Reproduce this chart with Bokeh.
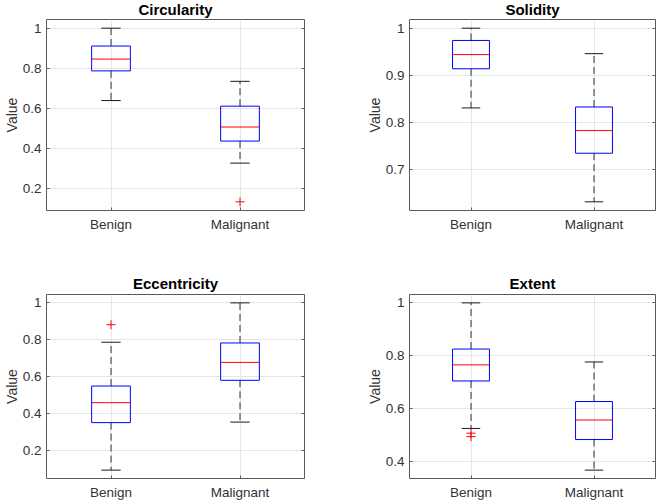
from bokeh.plotting import figure
from bokeh.layouts import gridplot
from bokeh.models import Range1d, FixedTicker, CustomJSTickFormatter, LinearAxis
from bokeh.embed import file_html
from bokeh.resources import INLINE

groups = ["Benign", "Malignant"]

# five-number summaries: lower whisker, Q1, median, Q3, upper whisker
circularity_benign = [0.639, 0.787, 0.846, 0.911, 1.000]
circularity_malignant = [0.327, 0.437, 0.507, 0.611, 0.735]
circularity_outliers = [[], [0.134]]
circularity_ticks = [0.2, 0.4, 0.6, 0.8, 1.0]

solidity_benign = [0.831, 0.914, 0.944, 0.974, 1.000]
solidity_malignant = [0.632, 0.735, 0.783, 0.833, 0.946]
solidity_outliers = [[], []]
solidity_ticks = [0.7, 0.8, 0.9, 1.0]

eccentricity_benign = [0.095, 0.352, 0.460, 0.550, 0.787]
eccentricity_malignant = [0.355, 0.581, 0.678, 0.783, 1.000]
eccentricity_outliers = [[0.882], []]
eccentricity_ticks = [0.2, 0.4, 0.6, 0.8, 1.0]

extent_benign = [0.524, 0.704, 0.765, 0.825, 1.000]
extent_malignant = [0.366, 0.482, 0.556, 0.626, 0.776]
extent_outliers = [[0.506, 0.493], []]
extent_ticks = [0.4, 0.6, 0.8, 1.0]

FONT = "Liberation Sans"
AXIS_GRAY = "#5a5a5a"
TEXT_GRAY = "#333333"
BOX_W = 0.3
CAP_W = 0.15


def boxplot_panel(title, stats, outliers, ticks, left, right, top, bottom,
                  title_valign, title_standoff):
    xs = [i + 1 for i in range(len(groups))]
    values = [v for s in stats for v in s] + [v for o in outliers for v in o]
    lo, hi = min(values), max(values)
    pad = 0.05 * (hi - lo)

    p = figure(width=329, height=251, title=title,
               x_range=Range1d(0.5, len(groups) + 0.5),
               y_range=Range1d(lo - pad, hi + pad),
               output_backend="svg", toolbar_location=None,
               min_border_left=left, min_border_right=right,
               min_border_top=top, min_border_bottom=bottom)

    low = [s[0] for s in stats]
    q1 = [s[1] for s in stats]
    med = [s[2] for s in stats]
    q3 = [s[3] for s in stats]
    high = [s[4] for s in stats]

    # whiskers
    p.segment(x0=xs, x1=xs, y0=q3, y1=high, line_color="#1a1a1a",
              line_width=0.9, line_dash="7 4")
    p.segment(x0=xs, x1=xs, y0=q1, y1=low, line_color="#1a1a1a",
              line_width=0.9, line_dash="7 4")
    # whisker caps
    for ys in (low, high):
        p.segment(x0=[x - CAP_W / 2 for x in xs], x1=[x + CAP_W / 2 for x in xs],
                  y0=ys, y1=ys, line_color="#1a1a1a", line_width=1)
    # boxes
    p.vbar(x=xs, width=BOX_W, bottom=q1, top=q3, fill_color=None,
           line_color="#0000ff", line_width=1)
    # medians
    p.segment(x0=[x - BOX_W / 2 for x in xs], x1=[x + BOX_W / 2 for x in xs],
              y0=med, y1=med, line_color="#ff0000", line_width=1)
    # outliers
    ox = [xs[i] for i, o in enumerate(outliers) for _ in o]
    oy = [v for o in outliers for v in o]
    if oy:
        p.scatter(x=ox, y=oy, marker="cross", size=9, line_color="#ff0000",
                  line_width=1)

    p.title.text_font = FONT
    p.title.text_font_size = "15px"
    p.title.text_font_style = "bold"
    p.title.text_color = "black"
    p.title.align = "center"
    p.title.vertical_align = title_valign
    p.title.standoff = title_standoff

    p.outline_line_color = AXIS_GRAY
    p.outline_line_width = 1
    p.outline_line_alpha = 1
    p.grid.grid_line_color = "#e6e6e6"
    p.grid.grid_line_width = 1

    p.xaxis.ticker = FixedTicker(ticks=xs)
    p.xaxis.formatter = CustomJSTickFormatter(
        args=dict(names=groups), code="return names[Math.round(tick) - 1];")
    p.yaxis.ticker = FixedTicker(ticks=ticks)
    p.yaxis.formatter = CustomJSTickFormatter(
        code="return String(Math.round(tick * 10) / 10);")
    p.yaxis.axis_label = "Value"

    for ax in p.axis:
        ax.axis_line_color = None
        ax.major_tick_in = 3
        ax.major_tick_out = 0
        ax.major_tick_line_color = AXIS_GRAY
        ax.minor_tick_line_color = None
        ax.major_label_text_font = FONT
        ax.major_label_text_font_size = "13.5px"
        ax.major_label_text_color = TEXT_GRAY
        ax.axis_label_text_font = FONT
        ax.axis_label_text_font_size = "14px"
        ax.axis_label_text_font_style = "normal"
        ax.axis_label_text_color = TEXT_GRAY
    p.xaxis.major_label_standoff = 6
    p.yaxis.major_label_standoff = 5
    p.yaxis.axis_label_standoff = 0

    # inner tick marks along the right edge of the frame
    right_ax = LinearAxis(ticker=FixedTicker(ticks=ticks),
                          formatter=CustomJSTickFormatter(code="return '';"),
                          axis_line_color=None, major_tick_in=3,
                          major_tick_out=0, major_tick_line_color=AXIS_GRAY,
                          minor_tick_line_color=None,
                          major_label_standoff=0)
    p.add_layout(right_ax, "right")
    return p


p1 = boxplot_panel("Circularity", [circularity_benign, circularity_malignant],
                   circularity_outliers, circularity_ticks, 45, 25, 18, 41,
                   "top", 0)
p2 = boxplot_panel("Solidity", [solidity_benign, solidity_malignant],
                   solidity_outliers, solidity_ticks, 80, 3, 18, 41,
                   "top", 0)
p3 = boxplot_panel("Eccentricity", [eccentricity_benign, eccentricity_malignant],
                   eccentricity_outliers, eccentricity_ticks, 45, 25, 43, 23,
                   "bottom", 6)
p4 = boxplot_panel("Extent", [extent_benign, extent_malignant],
                   extent_outliers, extent_ticks, 80, 3, 43, 23,
                   "bottom", 6)

grid = gridplot([[p1, p2], [p3, p4]], toolbar_location=None)

open("out.html", "w").write(file_html(grid, INLINE))
